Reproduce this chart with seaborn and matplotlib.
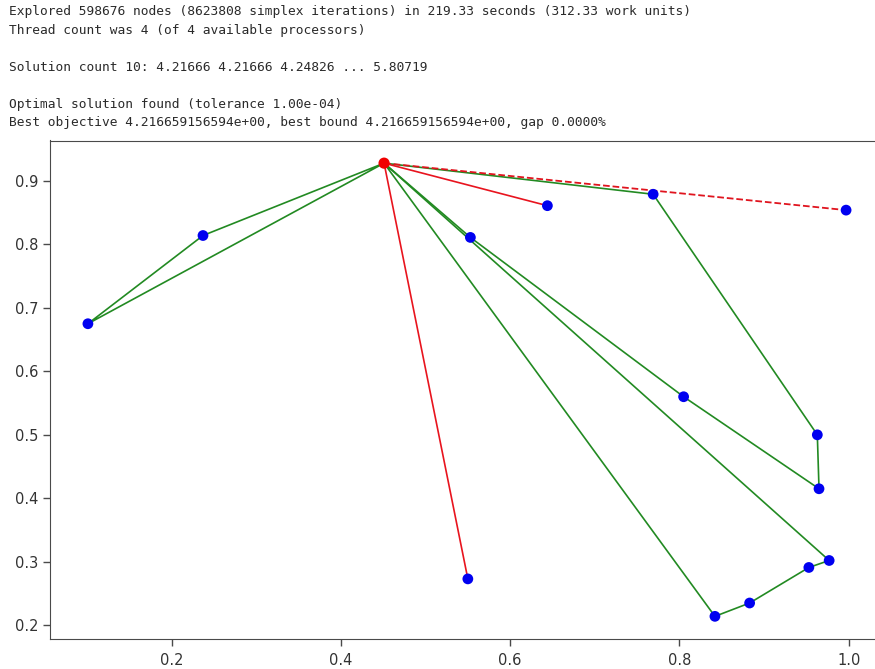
import numpy as np
import pandas as pd
import matplotlib
matplotlib.use("Agg")
import matplotlib.pyplot as plt
import seaborn as sns

# ---- data ----
depot_x = [0.451]
depot_y = [0.928]
# customers: A,B,C,D,E,F,G,H,I,J,K,L,M,N
cust_x = [0.237, 0.101, 0.644, 0.769, 0.997, 0.553, 0.805, 0.963, 0.965, 0.550, 0.977, 0.953, 0.883, 0.842]
cust_y = [0.814, 0.675, 0.861, 0.879, 0.854, 0.811, 0.560, 0.500, 0.415, 0.273, 0.302, 0.291, 0.235, 0.214]

green_routes = [[0, 1], [5, 6, 8, 7, 3], [10, 11, 12, 13]]   # closed tours depot -> ... -> depot
red_routes = [[2], [9]]                                       # depot -> customer (solid red)
dashed_routes = [[4]]                                         # depot -> customer (dashed red)

console_lines = [
    "Explored 598676 nodes (8623808 simplex iterations) in 219.33 seconds (312.33 work units)",
    "Thread count was 4 (of 4 available processors)",
    "",
    "Solution count 10: 4.21666 4.21666 4.24826 ... 5.80719",
    "",
    "Optimal solution found (tolerance 1.00e-04)",
    "Best objective 4.216659156594e+00, best bound 4.216659156594e+00, gap 0.0000%",
]


def route_frame(routes, closed):
    rows = []
    for rid, r in enumerate(routes):
        seq = [None] + list(r) + ([None] if closed else [])
        for k in seq:
            if k is None:
                rows.append((rid, depot_x[0], depot_y[0]))
            else:
                rows.append((rid, cust_x[k], cust_y[k]))
    return pd.DataFrame(rows, columns=["route", "x", "y"])


sns.set_style("ticks")
plt.rcParams["font.family"] = ["DejaVu Sans"]
plt.rcParams["axes.edgecolor"] = "#4a4a4a"
plt.rcParams["xtick.color"] = "#4a4a4a"
plt.rcParams["ytick.color"] = "#4a4a4a"
plt.rcParams["xtick.labelcolor"] = "#333333"
plt.rcParams["ytick.labelcolor"] = "#333333"

W, H = 875, 669
fig = plt.figure(figsize=(W / 100, H / 100), dpi=100)
fig.patch.set_facecolor("white")
ax = fig.add_axes([50 / W, 30 / H, 834 / W, 498.5 / H])

g_df = route_frame(green_routes, True)
r_df = route_frame(red_routes, False)
d_df = route_frame(dashed_routes, False)

sns.lineplot(data=g_df, x="x", y="y", units="route", estimator=None, sort=False,
             color="#228a22", lw=1.2, ax=ax, zorder=2)
sns.lineplot(data=r_df, x="x", y="y", units="route", estimator=None, sort=False,
             color="#e8141e", lw=1.2, ax=ax, zorder=2)
sns.lineplot(data=d_df, x="x", y="y", units="route", estimator=None, sort=False,
             color="#e0141e", lw=1.3, ls="--", ax=ax, zorder=2)

sns.scatterplot(x=cust_x, y=cust_y, color="#0000f0", s=60, edgecolor="none", ax=ax, zorder=3)
sns.scatterplot(x=depot_x, y=depot_y, color="#f00000", s=65, edgecolor="none", ax=ax, zorder=4)

ax.set_xlabel("")
ax.set_ylabel("")
ax.set_xticks([0.2, 0.4, 0.6, 0.8, 1.0])
ax.set_yticks([0.2, 0.3, 0.4, 0.5, 0.6, 0.7, 0.8, 0.9])
ax.tick_params(labelsize=10.5, length=5, width=1)
ax.tick_params(axis="x", pad=5)

line_h = 18.5
for i, line in enumerate(console_lines):
    if not line:
        continue
    fig.text(9 / W, 1 - (11.7 + i * line_h) / H, line, va="center", ha="left",
             family="DejaVu Sans Mono", fontsize=9.3, color="#2a2a2a")

fig.savefig("out.png", dpi=100, facecolor="white")
